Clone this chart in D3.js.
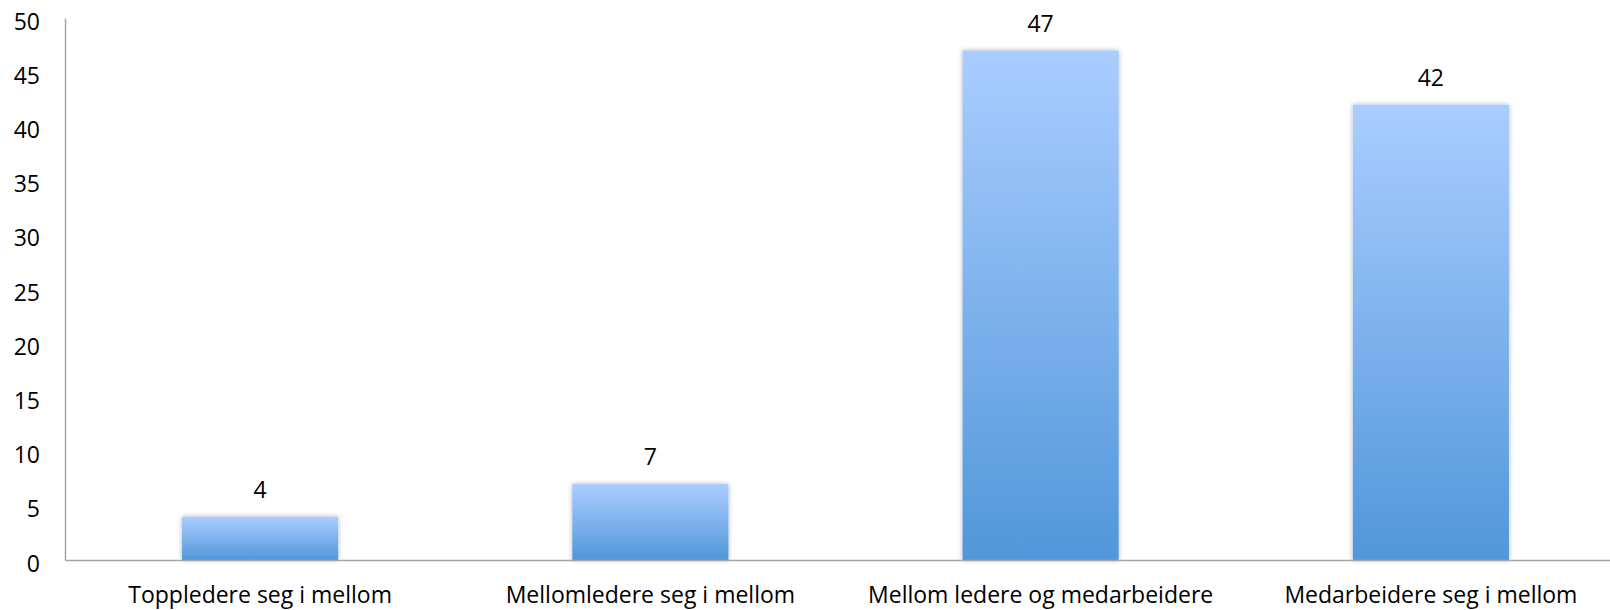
<!DOCTYPE html>
<html>
<head>
<meta charset="utf-8">
<script src="https://cdn.jsdelivr.net/npm/d3@7"></script>
<style>
  html, body { margin: 0; padding: 0; background: #fff; }
  svg { display: block; }
  text { font-family: "Open Sans", "Noto Sans", sans-serif; fill: #000; }
</style>
</head>
<body>
<script>
const categories = ["Toppledere seg i mellom", "Mellomledere seg i mellom", "Mellom ledere og medarbeidere", "Medarbeidere seg i mellom"];
const values = [4, 7, 47, 42];
const yTicks = [0, 5, 10, 15, 20, 25, 30, 35, 40, 45, 50];

const W = 1610, H = 610;
const svg = d3.select("body").append("svg").attr("width", W).attr("height", H);

const defs = svg.append("defs");
const grad = defs.append("linearGradient").attr("id", "barGrad")
  .attr("x1", 0).attr("y1", 0).attr("x2", 0).attr("y2", 1);
grad.append("stop").attr("offset", "0%").attr("stop-color", "#aacdff");
grad.append("stop").attr("offset", "100%").attr("stop-color", "#5197da");

const shadow = defs.append("filter").attr("id", "shadow")
  .attr("x", "-10%").attr("y", "-10%").attr("width", "120%").attr("height", "120%");
shadow.append("feDropShadow").attr("dx", 0).attr("dy", 0).attr("stdDeviation", 2.5)
  .attr("flood-color", "#000").attr("flood-opacity", 0.3);

const x = d3.scaleBand().domain(categories).range([65, 1626]).paddingInner(0.6).paddingOuter(0.3);
const y = d3.scaleLinear().domain([0, 50]).range([560, 18]);

// bars
svg.append("g").selectAll("rect").data(values).join("rect")
  .attr("x", (d, i) => x(categories[i]))
  .attr("y", d => y(d))
  .attr("width", x.bandwidth())
  .attr("height", d => y(0) - y(d))
  .attr("fill", "url(#barGrad)")
  .attr("filter", "url(#shadow)");

// value labels
svg.append("g").selectAll("text").data(values).join("text")
  .attr("x", (d, i) => x(categories[i]) + x.bandwidth() / 2)
  .attr("y", d => y(d) - 19)
  .attr("text-anchor", "middle")
  .style("font-size", "23px")
  .text(d => d);

// y axis
const yAxis = d3.axisLeft(y).tickValues(yTicks).tickSize(0).tickPadding(0);
const gy = svg.append("g").attr("transform", "translate(65,0)").call(yAxis);
gy.select(".domain").attr("stroke", "#a6a6a6").attr("stroke-width", 1.5);
gy.selectAll(".tick text")
  .attr("x", -25)
  .attr("dy", null)
  .attr("y", 11)
  .attr("text-anchor", "end")
  .style("font-family", "'Open Sans', sans-serif")
  .style("font-size", "23px")
  .attr("fill", "#000");

// x axis
const xAxis = d3.axisBottom(x).tickSize(0).tickPadding(0);
const gx = svg.append("g").attr("transform", "translate(0,560)").call(xAxis);
gx.select(".domain").attr("stroke", "#a6a6a6").attr("stroke-width", 1.5);
gx.selectAll(".tick text")
  .attr("y", 43)
  .attr("dy", null)
  .style("font-family", "'Open Sans', sans-serif")
  .style("font-size", "23px")
  .attr("fill", "#000");
</script>
</body>
</html>
